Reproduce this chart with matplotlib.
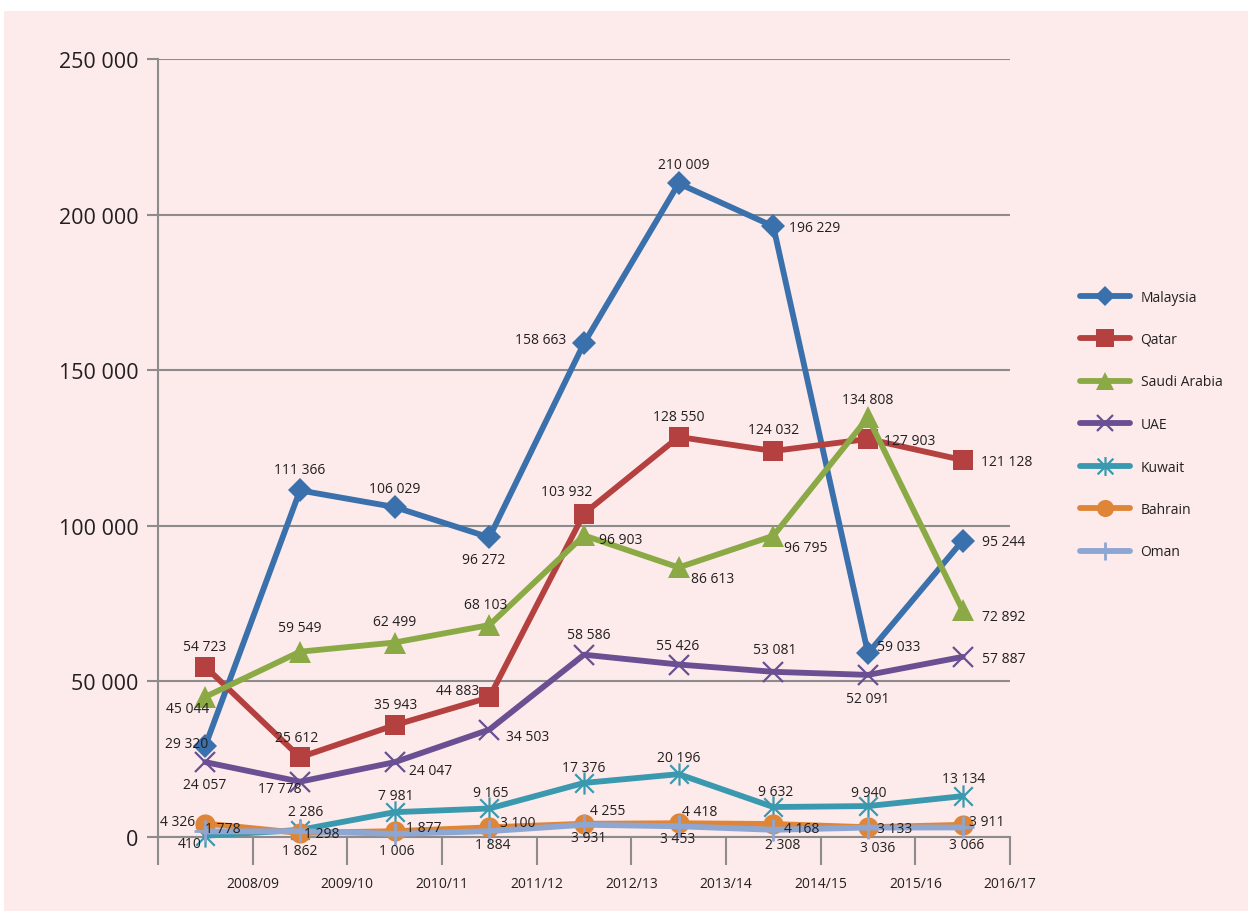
import matplotlib
matplotlib.use("Agg")
import matplotlib.pyplot as plt
from matplotlib.path import Path
from matplotlib.patches import Rectangle

plt.rcParams['font.family'] = ['Open Sans', 'DejaVu Sans']

years = ["2008/09", "2009/10", "2010/11", "2011/12", "2012/13",
         "2013/14", "2014/15", "2015/16", "2016/17"]

malaysia = [29320, 111366, 106029, 96272, 158663, 210009, 196229, 59033, 95244]
qatar = [54723, 25612, 35943, 44883, 103932, 128550, 124032, 127903, 121128]
saudi_arabia = [45044, 59549, 62499, 68103, 96903, 86613, 96795, 134808, 72892]
uae = [24057, 17778, 24047, 34503, 58586, 55426, 53081, 52091, 57887]
kuwait = [410, 2286, 7981, 9165, 17376, 20196, 9632, 9940, 13134]
bahrain = [4326, 1298, 1877, 3100, 4255, 4418, 4168, 3133, 3911]
oman = [1778, 1862, 1006, 1884, 3931, 3453, 2308, 3036, 3066]

# asterisk marker: diagonal cross plus a vertical stroke
star_path = Path(
    [(-0.5, -0.5), (0.5, 0.5), (-0.5, 0.5), (0.5, -0.5), (0.0, -0.6), (0.0, 0.6)],
    [Path.MOVETO, Path.LINETO, Path.MOVETO, Path.LINETO, Path.MOVETO, Path.LINETO])

# label offsets in pixels (dx, dy), dy upward
series = [
    ("Malaysia", malaysia, "#3A70AB", dict(marker="D", ms=12),
     [(-19, 2), (0, 21), (0, 19), (-6, -22), (-43, 4), (5, 19), (41, -1), (31, 7), (41, -1)]),
    ("Qatar", qatar, "#B4413F", dict(marker="s", ms=14.5),
     [(-1, 20), (-3, 20), (1, 21), (-32, 7), (-17, 22), (0, 20), (0, 22), (42, -2), (44, -1)]),
    ("Saudi Arabia", saudi_arabia, "#8BAA45", dict(marker="^", ms=16),
     [(-18, -12), (0, 24), (0, 21), (-4, 21), (37, -4), (34, -11), (32, -12), (0, 18), (41, -6)]),
    ("UAE", uae, "#6B4F93", dict(marker="x", ms=14, mew=1.6),
     [(-1, -22), (-20, -7), (36, -8), (38, -7), (5, 20), (-1, 19), (1, 22), (0, -24), (41, -2)]),
    ("Kuwait", kuwait, "#3A99AF", dict(marker=star_path, ms=16, mew=1.6),
     [(-16, -8), (6, 18), (1, 17), (1, 16), (0, 15), (0, 17), (2, 16), (1, 14), (1, 18)]),
    ("Bahrain", bahrain, "#DF8537", dict(marker="o", ms=14.5),
     [(-28, 2), (22, -1), (29, 4), (28, 5), (24, 13), (21, 12), (28, -4), (27, -1), (24, 3)]),
    ("Oman", oman, "#8EA6D2", dict(marker="+", ms=16, mew=2),
     [(17, 3), (0, -19), (2, -17), (3, -13), (5, -13), (-1, -12), (9, -15), (10, -20), (4, -17)]),
]

fig = plt.figure(figsize=(12.48, 9.12), dpi=100)
fig.patch.set_facecolor("white")
fig.patches.append(Rectangle((4 / 1248, 0), 1 - 4 / 1248, 1 - 12 / 912,
                             transform=fig.transFigure, facecolor="#FCEBEA",
                             edgecolor="none", zorder=-10))

ax = fig.add_axes([158 / 1248, 1 - 838 / 912, (1010 - 158) / 1248, (838 - 60) / 912])
ax.set_facecolor("none")

x = list(range(len(years)))
handles = []
for name, vals, color, mk, offs in series:
    kw = dict(mk)
    marker = kw.pop("marker")
    ms = kw.pop("ms")
    mew = kw.pop("mew", 0)
    line, = ax.plot(x, vals, color=color, lw=4.2, marker=marker, ms=ms,
                    mec=color, mfc=color, mew=mew, label=name,
                    solid_capstyle="round", solid_joinstyle="round",
                    clip_on=False, zorder=3)
    handles.append(line)
    for xi, v, (dx, dy) in zip(x, vals, offs):
        ax.annotate(f"{v:,}".replace(",", " "), (xi, v), xytext=(dx, dy),
                    textcoords="offset pixels", ha="center", va="center",
                    fontsize=10, color="#231F20", zorder=5)

ax.set_xlim(-0.5, 8.5)
ax.set_ylim(0, 250000)

grid_c = "#8C8C8C"
ax.set_yticks(range(0, 250001, 50000))
ax.set_yticklabels([f"{v:,}".replace(",", " ") for v in range(0, 250001, 50000)],
                   fontsize=15.5, color="#231F20")
ax.yaxis.grid(True, color=grid_c, lw=1.5, zorder=0)
ax.tick_params(axis="y", length=8, width=1.5, color=grid_c, pad=6)

ax.set_xticks([i + 0.5 for i in range(-1, 9)], minor=True)
ax.set_xticks([i + 0.5 for i in range(9)])
ax.set_xticklabels(years, fontsize=10, color="#231F20")
ax.tick_params(axis="x", which="both", length=20, width=1.5, color=grid_c)
ax.tick_params(axis="x", which="major", pad=8)

for s in ["top", "right"]:
    ax.spines[s].set_visible(False)
for s in ["left", "bottom"]:
    ax.spines[s].set_color(grid_c)
    ax.spines[s].set_linewidth(1.5)

leg = fig.legend(handles=handles, loc="upper left",
                 bbox_to_anchor=(1067 / 1248, 1 - 278 / 912),
                 frameon=False, fontsize=10, handlelength=3.6,
                 labelspacing=1.98, handletextpad=0.8, markerscale=0.85)
for t in leg.get_texts():
    t.set_color("#231F20")

fig.savefig("out.png", dpi=100, facecolor=fig.get_facecolor())
